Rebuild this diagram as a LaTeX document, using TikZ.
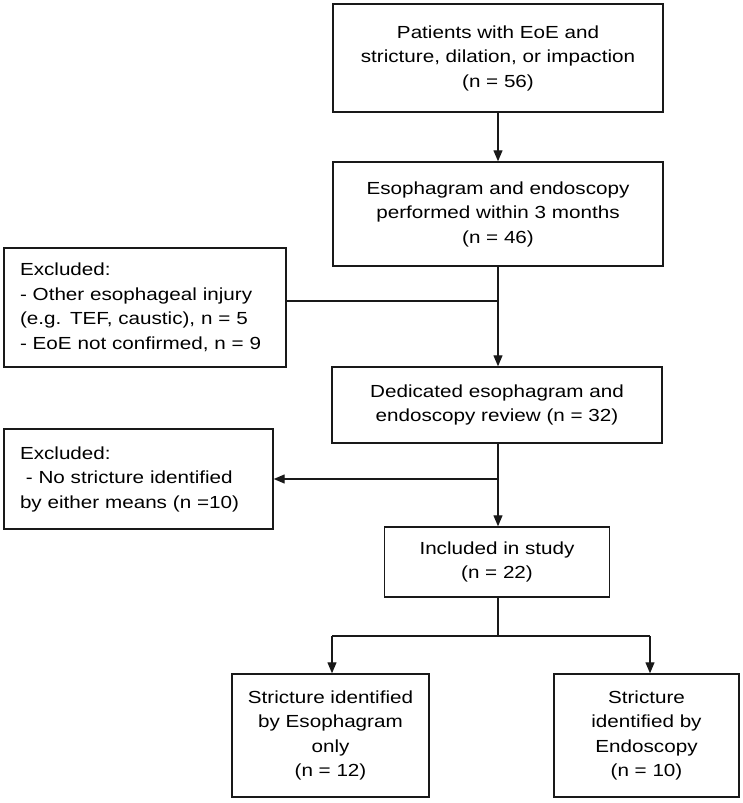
\documentclass[tikz,border=0pt]{standalone}
\usepackage{fontspec}
\setmainfont{Liberation Sans}[FakeStretch=1.18]
\usetikzlibrary{arrows.meta}
\begin{document}
\begin{tikzpicture}[x=1pt,y=-1pt,
  box/.style={draw=black!90, line width=1.4pt, align=center, inner xsep=4pt, inner ysep=0pt,
    font=\fontsize{17.5}{24.5}\selectfont},
  exbox/.style={box, align=left, inner xsep=16pt},
  conn/.style={line width=1.2pt, draw=black!90},
  arr/.style={conn, -{Triangle[length=11pt,width=9pt]}}]
\useasboundingbox (0,0) rectangle (743,803);
\node[box, minimum width=330pt, minimum height=108pt] (n1) at (498,58)
  {Patients with EoE and\\stricture, dilation, or impaction\\(n = 56)};
\node[box, minimum width=330pt, minimum height=104pt] (n2) at (498,214)
  {Esophagram and endoscopy\\performed within 3 months\\(n = 46)};
\node[exbox, text width=250pt, minimum height=119pt] (ex1) at (145,307.5)
  {Excluded:\\- Other esophageal injury\\(e.g. TEF, caustic), n = 5\\- EoE not confirmed, n = 9};
\node[box, minimum width=330pt, minimum height=76pt] (n3) at (497,405)
  {Dedicated esophagram and\\endoscopy review (n = 32)};
\node[exbox, text width=237pt, minimum height=100pt] (ex2) at (138.5,479)
  {Excluded:\\\ - No stricture identified\\by either means (n =10)};
\node[box, minimum width=225pt, minimum height=70pt] (n4) at (497,562)
  {Included in study\\(n = 22)};
\node[box, minimum width=197pt, minimum height=123pt] (n5) at (330.5,735.5)
  {Stricture identified\\by Esophagram\\only\\(n = 12)};
\node[box, minimum width=185pt, minimum height=123pt] (n6) at (646.5,735.5)
  {Stricture\\identified by\\Endoscopy\\(n = 10)};
\coordinate (j1) at (498,301);
\coordinate (j2) at (498,479);
\coordinate (j3) at (498,636);
\coordinate (l5) at (332,636);
\coordinate (r6) at (650,636);
\draw[arr] (n1.south) -- (n2.north);
\draw[arr] (n2.south) -- (n2.south |- n3.north);
\draw[conn] (ex1.east |- j1) -- (j1);
\draw[arr] (j2) -- (ex2.east |- j2);
\draw[arr] (n3.south -| n2.south) -- (n2.south |- n4.north);
\draw[conn] (j3 |- n4.south) -- (j3);
\draw[conn] (l5) -- (r6);
\draw[arr] (l5) -- (l5 |- n5.north);
\draw[arr] (r6) -- (r6 |- n6.north);
\end{tikzpicture}
\end{document}
